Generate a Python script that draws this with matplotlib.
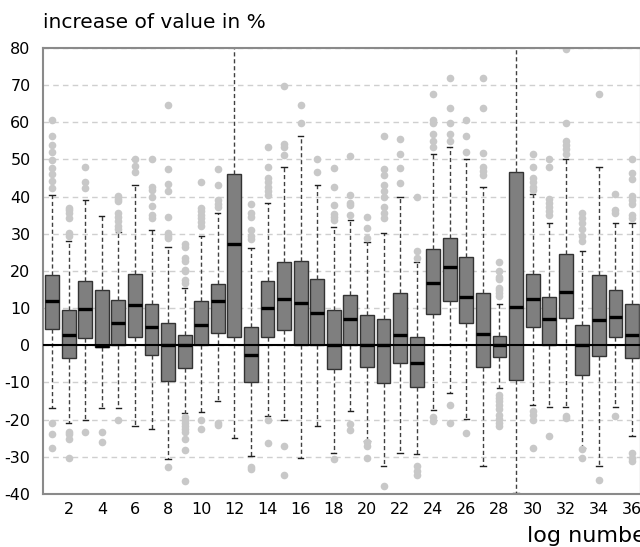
import matplotlib
matplotlib.use("Agg")
import matplotlib.pyplot as plt

plt.rcParams["axes.unicode_minus"] = False

# values, one entry per log
log_numbers = list(range(1, 37))
whisker_low = [-16.9, -20.8, -20.1, -16.9, -16.9, -21.7, -22.6, -30.6, -18.3, -17.9,
               -15.0, -24.8, -29.7, -19.0, -20.1, -30.4, -21.7, -29.0, -17.6, -25.7,
               -32.6, -29.0, -29.3, -17.4, -12.7, -19.9, -32.6, -11.5, -39.6, -16.0,
               -16.7, -16.7, -27.5, -32.6, -16.7, -24.5]
q1 = [4.3, -3.5, 2.1, -0.4, 0.0, 2.3, -2.7, -9.6, -6.0, 0.0,
      3.2, 2.3, -10.0, 2.3, 4.1, 0.0, 0.0, -6.4, 0.0, -5.7,
      -10.2, -4.8, -11.1, 8.3, 11.9, 6.1, -5.7, -3.1, -9.3, 4.9,
      0.0, 7.3, -8.1, -3.0, 2.2, -3.5]
medians = [11.9, 2.8, 9.8, -0.3, 6.1, 10.8, 5.0, 0.0, 0.0, 5.6,
           11.9, 27.3, -2.7, 10.1, 12.5, 11.3, 8.8, 0.0, 7.2, 0.0,
           0.0, 2.8, -4.8, 16.8, 21.0, 13.1, 3.0, 0.0, 10.4, 12.4,
           7.2, 14.4, 0.0, 6.7, 7.6, 2.8]
q3 = [19.0, 9.4, 17.3, 14.8, 12.3, 19.1, 11.0, 5.9, 2.8, 11.9,
      16.4, 46.1, 5.0, 17.3, 22.4, 22.6, 17.9, 9.4, 13.5, 8.1,
      7.0, 14.0, 2.3, 25.8, 28.9, 23.7, 14.0, 2.5, 46.6, 19.1,
      13.1, 24.7, 5.5, 18.8, 15.0, 11.2]
whisker_high = [40.4, 28.2, 39.1, 34.9, 30.5, 43.2, 31.0, 26.5, 15.5, 29.4,
                35.5, 90.0, 26.2, 38.3, 48.0, 56.2, 43.2, 31.8, 33.8, 27.8,
                30.3, 39.9, 22.4, 51.5, 53.4, 50.0, 42.6, 11.0, 90.0, 40.7,
                32.9, 50.0, 25.3, 48.0, 32.9, 32.9]
outliers = [
    [60.5, 56.4, 54.0, 51.9, 49.8, 47.7, 46.1, 44.1, 42.2, -20.9, -23.9, -27.5],
    [37.0, 36.3, 35.5, 34.3, 30.3, 29.4, -23.2, -23.9, -25.2, -30.4],
    [48.1, 44.0, 42.2, -23.2],
    [-23.2, -26.1],
    [40.1, 39.5, 38.8, 35.5, 34.6, 33.4, 32.1, 31.2, -20.1],
    [50.0, 48.2, 46.6],
    [50.0, 42.6, 41.9, 39.9, 37.4, 35.2, 34.3],
    [64.7, 47.4, 43.4, 41.6, 34.5, 30.3, 29.5, 28.9, -32.7],
    [27.3, 26.4, 23.5, 22.6, 20.4, 20.0, 17.5, 16.8,
     -19.2, -20.0, -20.8, -21.6, -22.4, -23.2, -25.2, -28.1, -36.4],
    [43.9, 37.0, 36.1, 35.2, 34.3, 33.2, 32.1, -20.1, -22.6],
    [47.5, 43.1, 39.0, 38.1, 37.2, -20.8, -21.4],
    [],
    [37.9, 35.5, 34.6, 30.9, 29.5, 28.6, -32.7, -33.3],
    [53.3, 48.0, 45.0, 44.0, 42.6, 41.5, 40.4, -20.1, -26.4],
    [69.8, 54.3, 53.3, 51.3, -27.0, -34.9],
    [64.7, 59.8],
    [50.0, 46.6],
    [47.7, 42.6, 37.7, 35.4, 34.6, 33.7, -30.6],
    [51.0, 40.4, 38.3, 37.7, 35.0, -21.2, -22.7],
    [34.5, 31.6, 28.9, -26.1, -27.0, -30.2],
    [56.2, 47.4, 45.7, 43.1, 41.6, 39.9, 37.2, 35.5, 34.3, -37.8],
    [55.6, 51.6, 47.7, 43.7],
    [39.8, 25.3, 23.4, -32.6, -33.8, -34.8],
    [67.7, 60.5, 59.8, 56.9, 55.1, 53.3, -19.4, -20.3],
    [71.9, 63.8, 59.8, 56.9, 54.9, -16.0, -20.8],
    [60.5, 56.2, 51.9, -23.6],
    [71.9, 63.8, 51.7, 47.9, 46.8, 45.7],
    [22.4, 20.1, 18.4, 17.9, 15.5, 15.0, 14.1, 13.2,
     -13.4, -14.3, -15.1, -16.0, -17.0, -18.7, -19.9, -21.0, -21.7],
    [],
    [51.5, 48.0, 45.0, 44.0, 42.6, 41.7, -17.6, -18.7, -20.1, -27.7],
    [50.0, 48.0, 39.5, 38.3, 37.2, 36.1, 35.0, -24.4],
    [79.8, 59.8, 55.1, 54.0, 52.9, 51.6, -19.0, -19.6],
    [35.5, 34.3, 32.9, 31.3, 29.5, 28.0, -27.9, -30.2],
    [67.7, -36.3],
    [40.6, 36.5, 35.6, -19.0],
    [50.0, 46.4, 44.8, 40.3, 39.0, 38.1, 35.2, 34.3, -29.0, -30.2, -31.2],
]
y_ticks = list(range(-40, 81, 10))
x_ticks = list(range(2, 37, 2))

stats = []
for i in range(len(log_numbers)):
    stats.append({"whislo": whisker_low[i], "q1": q1[i], "med": medians[i],
                  "q3": q3[i], "whishi": whisker_high[i], "fliers": outliers[i]})

fig = plt.figure(figsize=(6.4, 5.47), dpi=100)
ax = fig.add_axes([43 / 640, 1 - 494 / 547, 596.5 / 640, 446 / 547])

ax.bxp(stats, positions=log_numbers, widths=0.84, capwidths=0.32,
       patch_artist=True, showfliers=True,
       boxprops=dict(facecolor="#7f7f7f", edgecolor="#333333", linewidth=1),
       medianprops=dict(color="black", linewidth=2.4),
       whiskerprops=dict(color="#404040", linewidth=1, linestyle=(0, (3, 2))),
       capprops=dict(color="#202020", linewidth=1),
       flierprops=dict(marker="o", markerfacecolor="#c8c8c8",
                       markeredgecolor="none", markersize=5.5))

ax.axhline(0, color="black", linewidth=1.5, zorder=5)

ax.set_xlim(0.45, 36.45)
ax.set_ylim(-40, 80)
ax.set_yticks(y_ticks)
ax.set_xticks(x_ticks)
ax.set_xticklabels([str(t) for t in x_ticks])
ax.tick_params(axis="both", length=0, labelsize=11.5)
ax.tick_params(axis="y", pad=9)
ax.tick_params(axis="x", pad=6)
ax.yaxis.grid(True, color="#cfcfcf", linestyle=(0, (4, 3)), linewidth=1)
ax.set_axisbelow(True)

for side in ["left", "bottom", "top"]:
    ax.spines[side].set_color("#8a8a8a")
    ax.spines[side].set_linewidth(1.5)
ax.spines["right"].set_color("#cccccc")
ax.spines["right"].set_linewidth(1)

fig.text(43 / 640, 1 - 28 / 547, "increase of value in %", fontsize=14.5,
         ha="left", va="baseline")
fig.text(527 / 640, 1 - 542 / 547, "log number", fontsize=16,
         ha="left", va="baseline")

fig.savefig("out.png", dpi=100)
